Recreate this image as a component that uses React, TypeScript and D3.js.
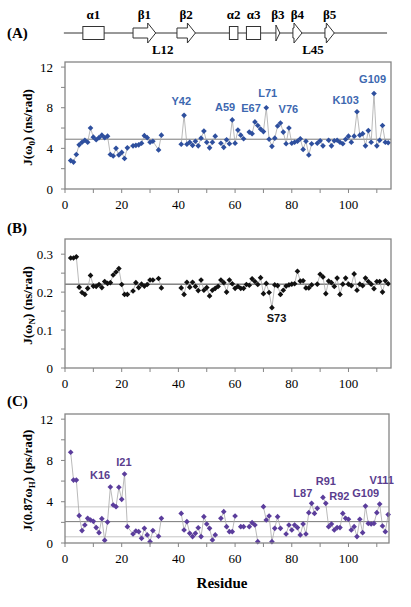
import React from 'react';
import * as d3 from 'd3';

// residue numbers (x categories)
const residues = [2,3,4,5,6,7,8,9,10,11,12,13,14,15,16,17,18,19,20,21,22,
  24,25,26,27,28,29,30,31,33,34,
  41,42,43,44,45,46,47,48,49,50,51,52,53,54,55,56,57,58,59,60,61,62,63,64,65,66,67,68,69,70,
  71,72,73,74,75,76,77,78,79,80,81,82,83,84,85,86,87,88,89,90,91,92,93,94,95,96,97,98,99,100,
  101,102,103,104,105,106,107,108,109,110,111,112,113,114];

// (A) J(ω0) ns/rad
const jw0 = [2.8,2.65,3.4,4.35,4.6,4.8,4.6,6.0,5.1,4.85,5.05,5.3,5.05,5.2,3.4,3.25,4.0,3.35,3.6,3.0,4.05,
  4.25,4.3,4.35,4.5,5.25,5.05,4.6,4.7,3.85,5.3,
  4.4,7.25,4.4,4.6,4.3,4.7,4.25,5.0,5.7,4.6,4.05,4.6,5.2,null,4.5,4.1,4.85,4.45,6.8,4.5,5.8,5.3,4.95,null,5.6,5.45,6.6,6.25,5.9,5.65,
  8.0,4.9,4.2,5.0,6.2,6.5,5.6,4.45,6.0,4.5,4.6,4.7,4.95,3.9,4.7,3.35,4.45,null,4.5,4.75,4.25,null,4.8,4.25,4.75,4.8,4.6,4.45,4.9,5.2,
  4.6,5.2,7.6,5.3,5.45,4.25,5.75,4.6,9.4,4.25,4.8,6.25,4.6,4.55];

// (B) J(ωN) ns/rad
const jwN = [0.29,0.29,0.293,0.213,0.199,0.194,0.21,0.244,0.216,0.215,0.22,0.212,0.228,0.223,0.225,0.245,0.253,0.262,0.22,0.194,0.194,
  0.203,0.225,0.212,0.221,0.216,0.22,0.232,0.232,0.236,0.211,
  0.211,0.194,0.226,0.213,0.226,0.215,0.204,0.232,0.205,0.212,0.19,0.205,0.21,0.215,0.232,0.225,0.2,0.232,0.222,0.21,0.215,0.21,0.21,0.22,0.218,0.235,0.228,0.22,0.238,0.196,
  0.223,0.199,0.159,0.219,0.217,0.194,0.205,0.216,0.219,0.221,0.222,0.255,0.229,0.23,0.211,0.211,0.219,null,0.221,0.247,0.24,0.196,0.229,0.225,0.215,0.237,0.194,0.221,0.237,0.221,
  0.217,0.248,0.205,0.221,0.217,0.237,0.228,0.221,0.209,0.228,0.228,0.2,0.23,0.222];

// (C) J(0.87ωH) ps/rad
const jw87H = [8.79,6.1,6.1,2.65,1.2,1.74,2.39,2.23,2.1,1.49,1.0,2.36,0.26,2.03,5.43,3.68,3.52,5.4,4.23,6.69,1.58,
  0.87,1.16,1.1,0.45,1.42,0.78,0.13,1.2,0.65,2.39,
  2.87,1.26,2.07,0.94,0.62,0.94,1.48,0.62,2.55,1.84,1.42,0.29,0.78,null,2.39,3.04,1.58,1.1,1.1,2.62,null,1.58,1.58,null,1.58,1.97,1.74,0.13,null,3.52,
  2.23,2.62,0.13,1.42,2.55,1.42,null,0.87,1.74,1.26,1.74,1.49,0.78,1.84,0.87,2.94,3.84,2.87,3.36,null,4.42,3.84,1.58,1.84,1.26,1.49,1.49,2.87,2.39,2.3,
  1.26,1.58,0.62,2.3,1.0,3.58,1.9,1.84,1.9,2.94,3.77,1.65,1.1,2.75];

// reference lines
const refA = [4.9];
const refB = [0.221];
const refC = [2.07, 3.5, 0.6];

// annotations: text, anchor residue, anchor value
const labelsA = [
  { text: 'Y42', res: 41.0, val: 8.3 }, { text: 'A59', res: 56.5, val: 7.7 },
  { text: 'E67', res: 65.6, val: 7.6 }, { text: 'L71', res: 71.5, val: 9.1 },
  { text: 'V76', res: 78.8, val: 7.5 }, { text: 'K103', res: 99.0, val: 8.4 },
  { text: 'G109', res: 108.5, val: 10.4 },
];
const labelsB = [{ text: 'S73', res: 74.6, val: 0.12 }];
const labelsC = [
  { text: 'K16', res: 12.4, val: 6.2 }, { text: 'I21', res: 20.8, val: 7.5 },
  { text: 'L87', res: 83.9, val: 4.5 }, { text: 'R91', res: 92.0, val: 5.6 },
  { text: 'R92', res: 96.8, val: 4.2 }, { text: 'G109', res: 106.1, val: 4.5 },
  { text: 'V111', res: 111.7, val: 5.7 },
];

// secondary structure
const ssNames = ['α1', 'β1', 'β2', 'α2', 'α3', 'β3', 'β4', 'β5'];
const ssStart = [6.3, 24.0, 39.5, 58.0, 64.0, 74.4, 80.4, 91.7];
const ssEnd = [13.8, 32.0, 46.0, 61.0, 69.0, 75.8, 83.6, 95.0];
const ssType = ['helix', 'strand', 'strand', 'helix', 'helix', 'strand', 'strand', 'strand'];
const loopNames = ['L12', 'L45'];
const loopRes = [34.5, 87.5];

const xTicksMajor = [0, 20, 40, 60, 80, 100];
const xTicksMinor = [0, 10, 20, 30, 40, 50, 60, 70, 80, 90, 100, 110];

const SERIF = '"Liberation Serif", "Times New Roman", serif';
const SANS = '"Liberation Sans", Arial, sans-serif';

const diamond = d3.symbol().type(d3.symbolSquare).size(16)() as string;

type Lab = { text: string; res: number; val: number };
type Pt = { r: number; v: number | null };

function Panel(props: {
  top: number; bottom: number; left: number; right: number; xMax: number;
  yMax: number; yMajor: number[]; yMinor: number[]; fmt: (v: number) => string;
  values: (number | null)[]; color: string; labelColor: string; labels: Lab[];
  refs: number[]; refColors: string[]; title: React.ReactNode; panel: string; panelY: number;
}) {
  const { top, bottom, left, right, xMax, yMax, yMajor, yMinor, fmt, values, color, labelColor, labels, refs, refColors, title, panel, panelY } = props;
  const x = d3.scaleLinear().domain([0, xMax]).range([left, right]);
  const y = d3.scaleLinear().domain([0, yMax]).range([bottom, top]);
  const pts: Pt[] = residues.map((r, i) => ({ r, v: values[i] }));
  // insert breaks where residues are missing over a long stretch
  const linePts: Pt[] = [];
  pts.forEach((p, i) => {
    if (i > 0 && p.r - pts[i - 1].r > 2) linePts.push({ r: p.r, v: null });
    linePts.push(p);
  });
  const line = d3.line<Pt>()
    .defined((d) => d.v !== null)
    .x((d) => x(d.r)).y((d) => y(d.v as number));
  const cy = (top + bottom) / 2 + 2;
  return (
    <g>
      <text x={7} y={panelY} fontFamily={SERIF} fontWeight="bold" fontSize={15}>{panel}</text>
      {refs.map((v, i) => (
        <line key={'r' + i} x1={left} x2={right} y1={y(v)} y2={y(v)} stroke={refColors[i]} strokeWidth={1} />
      ))}
      <path d={line(linePts) || ''} fill="none" stroke="#a8a8a8" strokeWidth={0.8} />
      {pts.filter((d) => d.v !== null).map((d, i) => (
        <path key={i} d={diamond} transform={`translate(${x(d.r)},${y(d.v as number)}) rotate(45)`} fill={color} />
      ))}
      {labels.map((l, i) => (
        <text key={'l' + i} x={x(l.res)} y={y(l.val)} textAnchor="middle" fontFamily={SANS}
          fontWeight="bold" fontSize={11} fill={labelColor}>{l.text}</text>
      ))}
      <rect x={left} y={top} width={right - left} height={bottom - top} fill="none" stroke="#858585" strokeWidth={1.3} />
      {yMinor.map((v) => (
        <line key={'ym' + v} x1={left - 4} x2={left} y1={y(v)} y2={y(v)} stroke="#858585" strokeWidth={1} />
      ))}
      {yMajor.map((v) => (
        <text key={'yt' + v} x={left - 12} y={y(v) + 4.5} textAnchor="end" fontFamily={SERIF} fontSize={13}>{fmt(v)}</text>
      ))}
      {xTicksMinor.map((v) => (
        <line key={'xm' + v} x1={x(v)} x2={x(v)} y1={bottom} y2={bottom + 4} stroke="#858585" strokeWidth={1} />
      ))}
      {xTicksMajor.map((v) => (
        <text key={'xt' + v} x={x(v)} y={bottom + 20} textAnchor="middle" fontFamily={SERIF} fontSize={13}>{v}</text>
      ))}
      <text transform={`translate(32,${cy}) rotate(-90)`} textAnchor="middle" fontFamily={SERIF} fontWeight="bold" fontSize={13}>
        {title}
      </text>
    </g>
  );
}

function Topology() {
  const x = d3.scaleLinear().domain([0, 115]).range([65, 391]);
  const yc = 33;
  return (
    <g>
      <line x1={x(-0.4)} x2={x(113.6)} y1={yc} y2={yc} stroke="#333" strokeWidth={1} />
      {ssNames.map((n, i) => {
        const x0 = x(ssStart[i]);
        const x1 = x(ssEnd[i]);
        let shape;
        if (ssType[i] === 'helix') {
          shape = <rect x={x0} y={yc - 6.5} width={x1 - x0} height={13} fill="#fff" stroke="#333" strokeWidth={1} />;
        } else {
          const head = Math.min(8, x1 - x0);
          const xh = x1 - head;
          const hh = x1 - x0 < 6 ? 8 : 10;
          const d = x1 - x0 > head + 1
            ? `M${x0},${yc - 5}L${xh},${yc - 5}L${xh},${yc - hh}L${x1},${yc}L${xh},${yc + hh}L${xh},${yc + 5}L${x0},${yc + 5}Z`
            : `M${x0},${yc - hh}L${x1},${yc}L${x0},${yc + hh}Z`;
          shape = <path d={d} fill="#fff" stroke="#333" strokeWidth={1} />;
        }
        return (
          <g key={n}>
            {shape}
            <text x={(x0 + x1) / 2} y={19} textAnchor="middle" fontFamily={SERIF} fontWeight="bold" fontSize={13}>{n}</text>
          </g>
        );
      })}
      {loopNames.map((n, i) => (
        <text key={n} x={x(loopRes[i])} y={54} textAnchor="middle" fontFamily={SERIF} fontWeight="bold" fontSize={13}>{n}</text>
      ))}
    </g>
  );
}

export default function App() {
  return (
    <svg width={411} height={607} style={{ position: 'absolute', left: 0, top: 0, background: '#fff' }}>
      <rect width={411} height={607} fill="#fff" />
      <Topology />
      <Panel top={62} bottom={189} left={65} right={391} xMax={115} yMax={12.5}
        yMajor={[0, 4, 8, 12]} yMinor={[0, 2, 4, 6, 8, 10, 12]} fmt={(v) => String(v)}
        values={jw0} color="#2e4f9e" labelColor="#3d68b0" labels={labelsA}
        refs={refA} refColors={['#7a7a7a']} panel="(A)" panelY={38}
        title={<><tspan>J(ω</tspan><tspan dy={3} fontSize={9}>0</tspan><tspan dy={-3}>) (ns/rad)</tspan></>} />
      <Panel top={239} bottom={368} left={65} right={391} xMax={115} yMax={0.34}
        yMajor={[0, 0.1, 0.2, 0.3]} yMinor={[0, 0.05, 0.1, 0.15, 0.2, 0.25, 0.3]} fmt={(v) => (v === 0 ? '0' : String(v))}
        values={jwN} color="#111" labelColor="#111" labels={labelsB}
        refs={refB} refColors={['#444']} panel="(B)" panelY={233}
        title={<><tspan>J(ω</tspan><tspan dy={3} fontSize={9}>N</tspan><tspan dy={-3}>) (ns/rad)</tspan></>} />
      <Panel top={414} bottom={543} left={65} right={389} xMax={114.3} yMax={12.5}
        yMajor={[0, 4, 8, 12]} yMinor={[0, 2, 4, 6, 8, 10, 12]} fmt={(v) => String(v)}
        values={jw87H} color="#5b3d9c" labelColor="#5a3d8e" labels={labelsC}
        refs={refC} refColors={['#777', '#c4c4c4', '#c4c4c4']} panel="(C)" panelY={406}
        title={<><tspan>J(0.87ω</tspan><tspan dy={3} fontSize={9}>H</tspan><tspan dy={-3}>) (ps/rad)</tspan></>} />
      <text x={222} y={588} textAnchor="middle" fontFamily={SERIF} fontWeight="bold" fontSize={15}>Residue</text>
    </svg>
  );
}
